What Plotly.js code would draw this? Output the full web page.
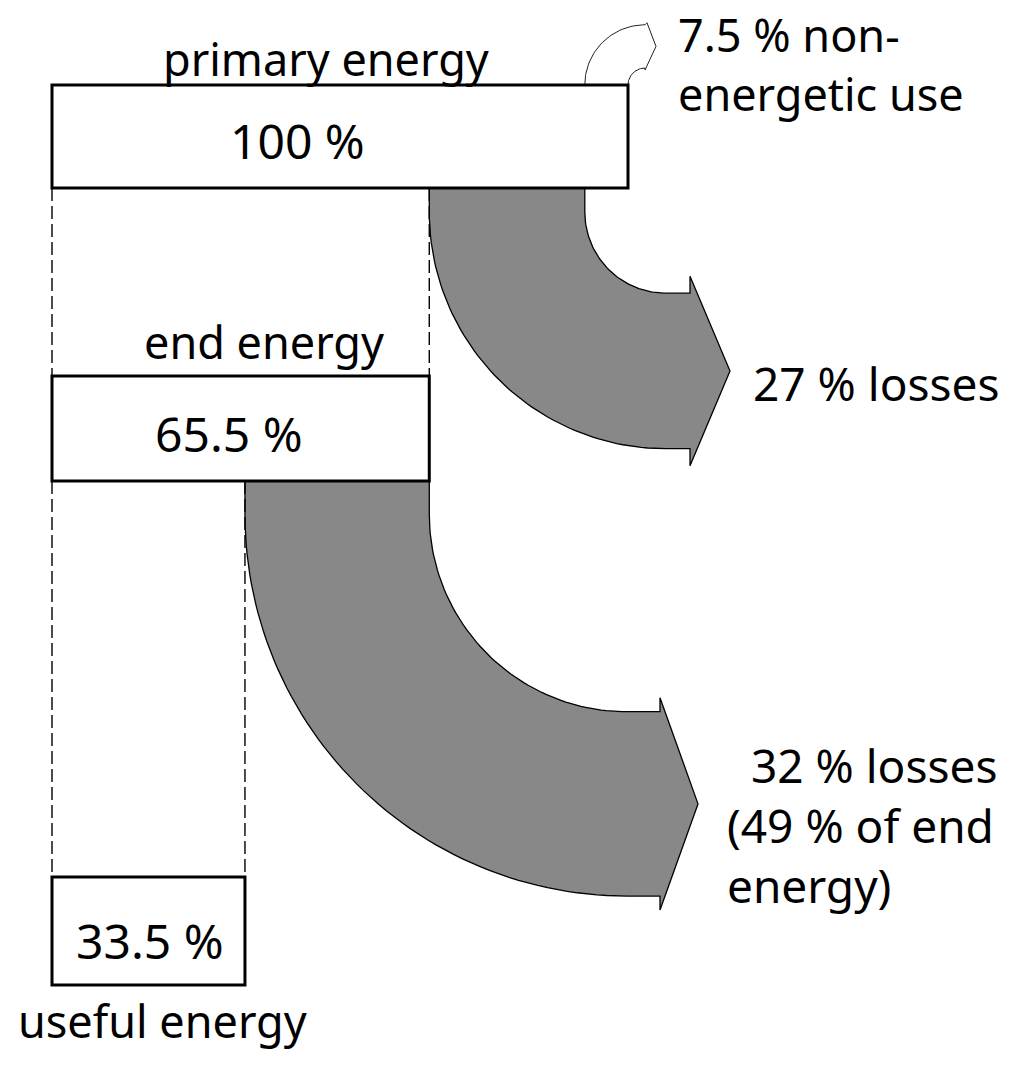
<!DOCTYPE html>
<html>
<head>
<meta charset="utf-8">
<script src="https://cdn.plot.ly/plotly-3.0.1.min.js"></script>
<style>html,body{margin:0;padding:0;background:#fff;}#chart{width:1022px;height:1066px;}</style>
</head>
<body>
<div id="chart"></div>
<script>
// ---- data ----
const stageNames = ['primary energy', 'end energy', 'useful energy'];
const stageShares = [100, 65.5, 33.5];          // % of primary energy
const lossShares = [27, 32];                     // losses between stages
const lossLabels = ['27 % losses', '\u00a0\u00a032 % losses<br>(49 % of end<br>energy)'];
const nonEnergeticShare = 7.5;
const nonEnergeticLabel = '7.5 % non-<br>energetic use';

// ---- layout constants (pixels) ----
const S = 5.76;            // px per percent
const X0 = 52;             // px of 0 %
const W = 1022, H = 1066;
const ux = px => (px - X0) / S;
const toPx = u => X0 + u * S;
const boxTop = [85, 376, 877];
const boxBottom = [188, 481, 985];
const FAMILY = 'Noto Sans, Open Sans, sans-serif';
const FONT = {family: FAMILY, size: 45, color: '#000'};
const FONT_NUM = {family: FAMILY, size: 48, color: '#000'};
const FONT_LOSS = {family: FAMILY, size: 46, color: '#000'};

const shapes = [];
// boxes
stageShares.forEach((v, i) => {
  shapes.push({type: 'rect', xref: 'x', yref: 'y', x0: 0, x1: v, y0: boxTop[i], y1: boxBottom[i],
    line: {color: '#000', width: 3}, fillcolor: 'rgba(255,255,255,0)', layer: 'above'});
});
// dashed connector lines
for (let i = 0; i < stageShares.length - 1; i++) {
  [0, stageShares[i + 1]].forEach(xv => {
    shapes.push({type: 'line', xref: 'x', yref: 'y', x0: xv, x1: xv, y0: boxBottom[i], y1: boxTop[i + 1],
      line: {color: '#000', width: 1.4, dash: '13px,5px'}});
  });
}

const traces = [];
// loss arrows
const straight = [24, 33], notchX = [690, 660], barb = [17, 14], tipLen = [40, 38];
lossShares.forEach((loss, i) => {
  const outerU = stageShares[i + 1];
  const innerU = outerU + loss;
  const oPx = toPx(outerU), iPx = toPx(innerU);
  const top = boxBottom[i];
  const cy = top + straight[i];
  const cx = notchX[i] - straight[i];
  const r = cx - iPx, R = cx - oPx;
  const xs = [], ys = [];
  const add = (x, y) => { xs.push(ux(x)); ys.push(y); };
  add(oPx, top); add(iPx, top); add(iPx, cy);
  for (let k = 0; k <= 60; k++) { const t = k / 60 * Math.PI / 2; add(cx - r * Math.cos(t), cy + r * Math.sin(t)); }
  add(notchX[i], cy + r); add(notchX[i], cy + r - barb[i]);
  add(notchX[i] + tipLen[i], cy + (r + R) / 2);
  add(notchX[i], cy + R + barb[i]); add(notchX[i], cy + R);
  for (let k = 60; k >= 0; k--) { const t = k / 60 * Math.PI / 2; add(cx - R * Math.cos(t), cy + R * Math.sin(t)); }
  add(oPx, top);
  traces.push({type: 'scatter', mode: 'lines', x: xs, y: ys, fill: 'toself', fillcolor: '#888888',
    line: {color: '#000', width: 1.3}, hoverinfo: 'skip'});
});

// non-energetic hook arrow
(() => {
  const outerU = stageShares[0] - nonEnergeticShare, innerU = stageShares[0];
  const oPx = toPx(outerU), iPx = toPx(innerU);
  const base = boxTop[0];
  const cx = iPx + 17;
  const r = cx - iPx, R = cx - oPx;
  const xs = [], ys = [];
  const add = (x, y) => { xs.push(ux(x)); ys.push(y); };
  for (let k = 0; k <= 40; k++) { const t = k / 40 * Math.PI / 2; add(cx - R * Math.cos(t), base - R * Math.sin(t)); }
  add(cx + 2, base - R - 2);
  add(cx + 11, base - (R + r) / 2);
  add(cx, base - r + 2);
  for (let k = 40; k >= 0; k--) { const t = k / 40 * Math.PI / 2; add(cx - r * Math.cos(t), base - r * Math.sin(t)); }
  traces.push({type: 'scatter', mode: 'lines', x: xs, y: ys, fill: 'toself', fillcolor: '#fff',
    line: {color: '#222', width: 1}, hoverinfo: 'skip'});
})();

// ---- text ----
const ann = [];
const addText = (text, xpx, ypx, font, xanchor, align) => ann.push({xref: 'x', yref: 'y', x: ux(xpx), y: ypx, text,
  showarrow: false, xanchor: xanchor || 'center', yanchor: 'middle', align: align || 'center', font});
const titlePos = [[326, 58], [264, 341], [162, 1020]];
const valuePos = [[297, 140], [229, 433], [150, 940]];
stageNames.forEach((n, i) => addText(n, titlePos[i][0], titlePos[i][1], FONT));
stageShares.forEach((v, i) => addText(v + ' %', valuePos[i][0], valuePos[i][1], FONT_NUM));
addText(nonEnergeticLabel, 676, 64, FONT, 'left', 'left');
addText(lossLabels[0], 751, 383, FONT_LOSS, 'left', 'left');
addText(lossLabels[1], 725, 825, FONT_LOSS, 'left', 'left');

const layout = {
  width: W, height: H, margin: {l: 0, r: 0, t: 0, b: 0},
  paper_bgcolor: '#fff', plot_bgcolor: '#fff', showlegend: false,
  xaxis: {range: [ux(0), ux(W)], visible: false, fixedrange: true},
  yaxis: {range: [H, 0], visible: false, fixedrange: true},
  shapes, annotations: ann, font: FONT
};
Plotly.newPlot('chart', traces, layout, {staticPlot: true});
</script>
</body>
</html>
